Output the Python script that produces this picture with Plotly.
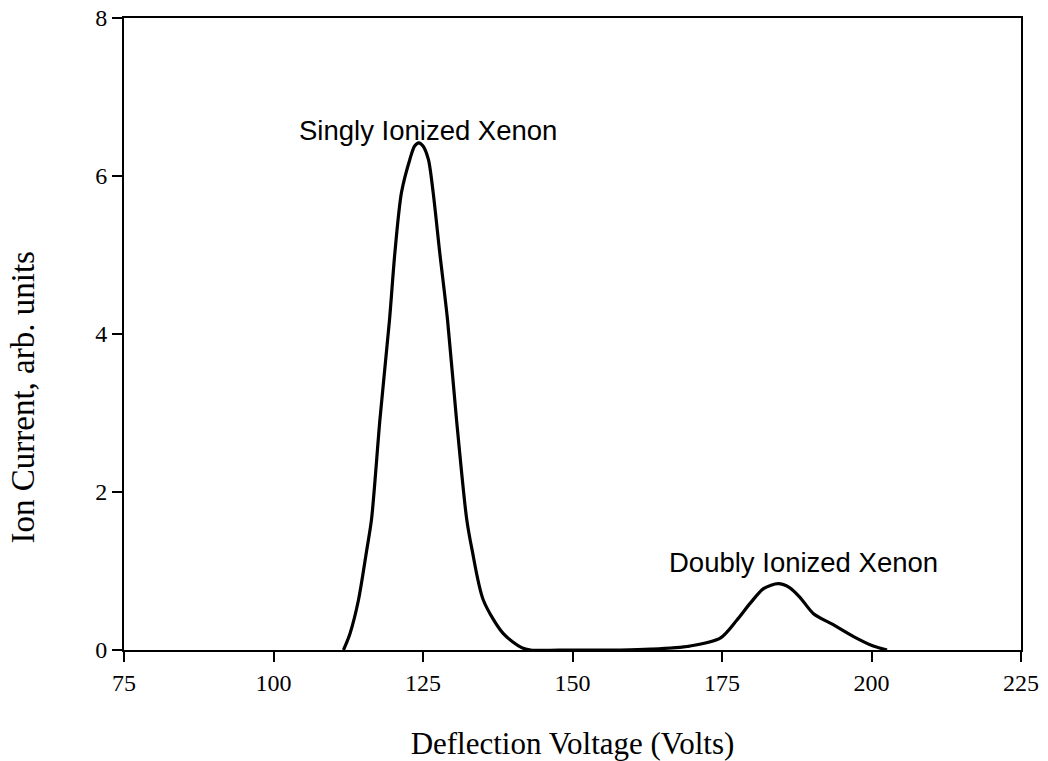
import plotly.graph_objects as go

# Data
voltage = [111.7, 112.8, 114.2, 115.6, 116.4, 117.8, 119.4, 120.3, 121.4, 122.8, 123.6, 124.3,
           125.0, 125.9, 126.7, 127.8, 129.1, 130.6, 132.3, 133.2, 135.1, 138.4, 141.5, 143.0,
           150.0, 158.0, 163.0, 169.6, 174.7, 177.5, 179.7, 182.0, 184.4, 186.3, 188.0,
           190.3, 193.6, 197.0, 200.3, 202.6]
current = [0.0, 0.21, 0.63, 1.27, 1.66, 2.92, 4.18, 5.03, 5.79, 6.21, 6.38, 6.42,
           6.38, 6.21, 5.79, 5.03, 4.18, 2.92, 1.66, 1.27, 0.63, 0.21, 0.03, 0.0,
           0.0, 0.0, 0.01, 0.05, 0.15, 0.38, 0.59, 0.78, 0.84, 0.79, 0.67,
           0.46, 0.32, 0.17, 0.05, 0.0]

x_ticks = [75, 100, 125, 150, 175, 200, 225]
y_ticks = [0, 2, 4, 6, 8]

labels = ["Singly Ionized Xenon", "Doubly Ionized Xenon"]
label_x = [125.8, 188.7]
label_y = [6.57, 1.11]

x_title = "Deflection Voltage (Volts)"
y_title = "Ion Current, arb. units"

fig = go.Figure()
fig.add_trace(go.Scatter(
    x=voltage, y=current, mode="lines",
    line=dict(color="black", width=3.2, shape="spline", smoothing=0.8),
    showlegend=False, hoverinfo="skip"))

for t, xx, yy in zip(labels, label_x, label_y):
    fig.add_annotation(x=xx, y=yy, text=t, showarrow=False,
                       font=dict(family="Liberation Sans, Arial", size=27.5, color="black"))

serif = "Liberation Serif, Times New Roman, serif"

# y-axis title placed as rotated text (sits lower than the plot centre in the reference)
fig.add_annotation(xref="paper", yref="paper", x=-0.113, y=0.399, text=y_title,
                   textangle=-90, showarrow=False, xanchor="center", yanchor="middle",
                   font=dict(family=serif, size=33, color="black"))

fig.update_layout(
    width=1048, height=761,
    margin=dict(l=124, r=27, t=18, b=111),
    paper_bgcolor="white", plot_bgcolor="white",
    xaxis=dict(range=[75, 225], tickvals=x_ticks, ticks="outside", ticklen=10,
               tickwidth=2, tickcolor="black", showline=True, linecolor="black",
               linewidth=2, mirror=True, showgrid=False, zeroline=False, automargin=False,
               ticklabeloverflow="allow",
               tickfont=dict(family=serif, size=24, color="black"),
               title=dict(text=x_title, standoff=40,
                          font=dict(family=serif, size=31, color="black"))),
    yaxis=dict(range=[0, 8], tickvals=y_ticks, ticks="outside", ticklen=10,
               tickwidth=2, tickcolor="black", showline=True, linecolor="black",
               linewidth=2, mirror=True, showgrid=False, zeroline=False, automargin=False,
               ticklabeloverflow="allow",
               tickfont=dict(family=serif, size=24, color="black")),
)

fig.write_html("out.html", config={"displayModeBar": False},
               post_script="document.body.style.margin='0';document.body.style.overflow='hidden';")
